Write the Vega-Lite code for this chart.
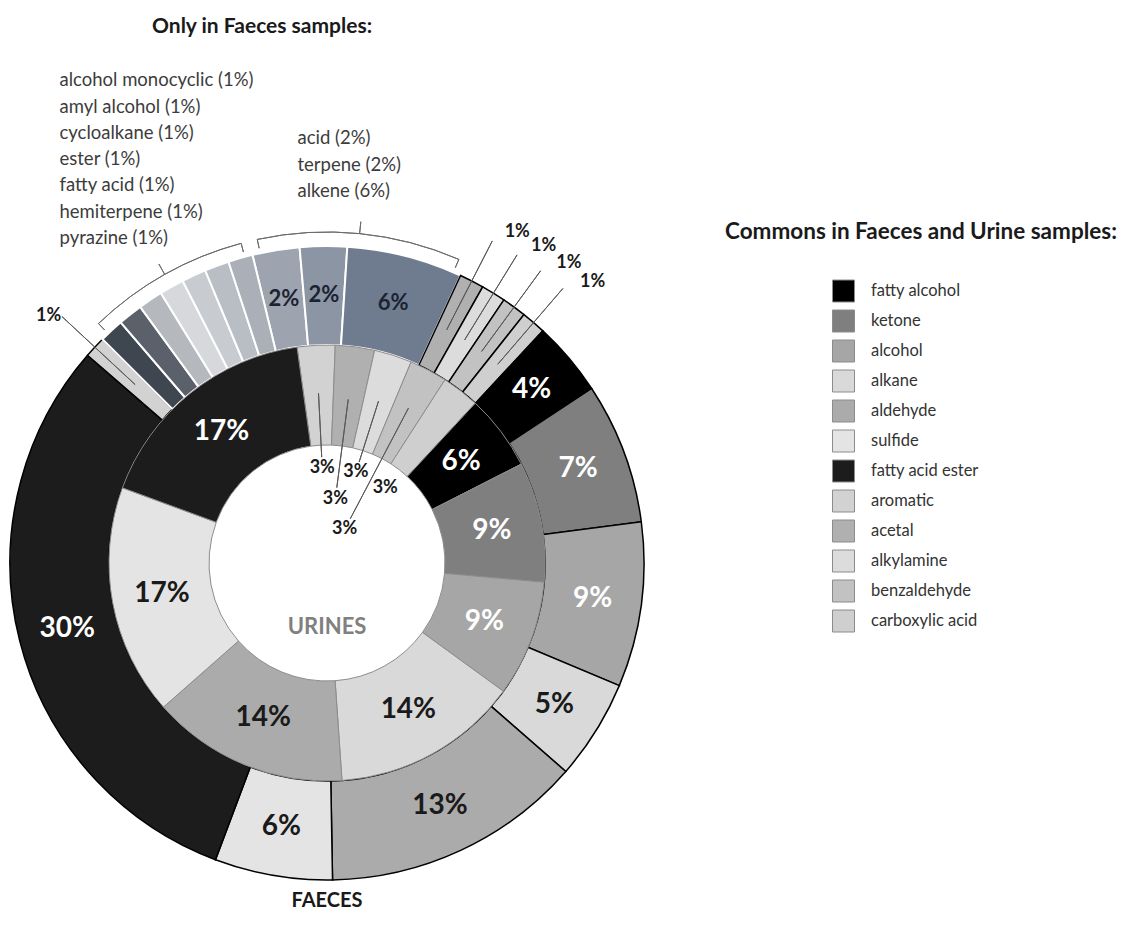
{
  "$schema": "https://vega.github.io/schema/vega-lite/v6.json",
  "width": 654,
  "height": 746,
  "autosize": {"type": "none"},
  "padding": {"left": 0, "top": 190, "right": 472, "bottom": 0},
  "background": "white",
  "title": {"text": "Only in Faeces samples:", "anchor": "start", "frame": "group", "dx": 152, "offset": 34, "font": "Lato", "fontSize": 21, "fontWeight": "bold", "color": "#1a1a1a"},
  "config": {"view": {"stroke": null}, "font": "Lato"},
  "datasets": {
    "rows": [
      {"ring": "faeces", "i": 1, "category": "acid", "group": "only", "value": 2.4, "label": "2%"},
      {"ring": "faeces", "i": 2, "category": "terpene", "group": "only", "value": 2.4, "label": "2%"},
      {"ring": "faeces", "i": 3, "category": "alkene", "group": "only", "value": 5.9, "label": "6%"},
      {"ring": "faeces", "i": 4, "category": "acetal", "group": "common", "value": 1.25, "label": "1%"},
      {"ring": "faeces", "i": 5, "category": "alkylamine", "group": "common", "value": 1.25, "label": "1%"},
      {"ring": "faeces", "i": 6, "category": "benzaldehyde", "group": "common", "value": 1.25, "label": "1%"},
      {"ring": "faeces", "i": 7, "category": "carboxylic acid", "group": "common", "value": 1.25, "label": "1%"},
      {"ring": "faeces", "i": 8, "category": "fatty alcohol", "group": "common", "value": 3.8, "label": "4%"},
      {"ring": "faeces", "i": 9, "category": "ketone", "group": "common", "value": 7.2, "label": "7%"},
      {"ring": "faeces", "i": 10, "category": "alcohol", "group": "common", "value": 8.4, "label": "9%"},
      {"ring": "faeces", "i": 11, "category": "alkane", "group": "common", "value": 5.1, "label": "5%"},
      {"ring": "faeces", "i": 12, "category": "aldehyde", "group": "common", "value": 13.3, "label": "13%"},
      {"ring": "faeces", "i": 13, "category": "sulfide", "group": "common", "value": 6.0, "label": "6%"},
      {"ring": "faeces", "i": 14, "category": "fatty acid ester", "group": "common", "value": 30.65, "label": "30%"},
      {"ring": "faeces", "i": 15, "category": "aromatic", "group": "common", "value": 1.1, "label": "1%"},
      {"ring": "faeces", "i": 16, "category": "alcohol monocyclic", "group": "only", "value": 1.25, "label": "1%"},
      {"ring": "faeces", "i": 17, "category": "amyl alcohol", "group": "only", "value": 1.25, "label": "1%"},
      {"ring": "faeces", "i": 18, "category": "cycloalkane", "group": "only", "value": 1.25, "label": "1%"},
      {"ring": "faeces", "i": 19, "category": "ester", "group": "only", "value": 1.25, "label": "1%"},
      {"ring": "faeces", "i": 20, "category": "fatty acid", "group": "only", "value": 1.25, "label": "1%"},
      {"ring": "faeces", "i": 21, "category": "hemiterpene", "group": "only", "value": 1.25, "label": "1%"},
      {"ring": "faeces", "i": 22, "category": "pyrazine", "group": "only", "value": 1.25, "label": "1%"},
      {"ring": "urines", "i": 1, "category": "aromatic", "group": "common", "value": 2.8, "label": "3%"},
      {"ring": "urines", "i": 2, "category": "acetal", "group": "common", "value": 2.9, "label": "3%"},
      {"ring": "urines", "i": 3, "category": "alkylamine", "group": "common", "value": 2.8, "label": "3%"},
      {"ring": "urines", "i": 4, "category": "benzaldehyde", "group": "common", "value": 2.8, "label": "3%"},
      {"ring": "urines", "i": 5, "category": "carboxylic acid", "group": "common", "value": 2.8, "label": "3%"},
      {"ring": "urines", "i": 6, "category": "fatty alcohol", "group": "common", "value": 5.6, "label": "6%"},
      {"ring": "urines", "i": 7, "category": "ketone", "group": "common", "value": 8.9, "label": "9%"},
      {"ring": "urines", "i": 8, "category": "alcohol", "group": "common", "value": 8.6, "label": "9%"},
      {"ring": "urines", "i": 9, "category": "alkane", "group": "common", "value": 13.9, "label": "14%"},
      {"ring": "urines", "i": 10, "category": "aldehyde", "group": "common", "value": 14.6, "label": "14%"},
      {"ring": "urines", "i": 11, "category": "sulfide", "group": "common", "value": 17.1, "label": "17%"},
      {"ring": "urines", "i": 12, "category": "fatty acid ester", "group": "common", "value": 17.2, "label": "17%"}
    ]
  },
  "data": {"name": "rows"},
  "resolve": {"scale": {"theta": "independent", "shape": "independent"}, "legend": {"shape": "independent"}},
  "layer": [
    {
      "transform": [
        {"filter": "datum.ring === 'faeces'"},
        {"window": [{"op": "sum", "field": "value", "as": "end"}], "sort": [{"field": "i"}], "frame": [null, 0]},
        {"calculate": "datum.end - datum.value", "as": "start"}
      ],
      "mark": {"type": "arc", "innerRadius": 218, "outerRadius": 317},
      "encoding": {
        "theta": {"field": "start", "type": "quantitative", "stack": false, "scale": {"domain": [0, 100], "range": [-0.2374, 6.0458]}},
        "theta2": {"field": "end"},
        "fill": {
          "field": "category", "type": "nominal",
          "scale": {
            "domain": ["fatty alcohol", "ketone", "alcohol", "alkane", "aldehyde", "sulfide", "fatty acid ester", "aromatic", "acetal", "alkylamine", "benzaldehyde", "carboxylic acid", "alcohol monocyclic", "amyl alcohol", "cycloalkane", "ester", "fatty acid", "hemiterpene", "pyrazine", "acid", "terpene", "alkene"],
            "range": ["#000000", "#7f7f7f", "#a6a6a6", "#d9d9d9", "#ababab", "#e4e4e4", "#1c1c1c", "#d2d2d2", "#b0b0b0", "#dcdcdc", "#c2c2c2", "#cfcfcf", "#3e4650", "#5a616b", "#b5b8bd", "#d6d8db", "#c8cbd0", "#b9bdc4", "#aaafb8", "#9da3af", "#8c95a3", "#6f7c8f"]
          },
          "legend": {
            "orient": "none", "legendX": 725, "legendY": 31,
            "title": "Commons in Faeces and Urine samples:", "titleFont": "Lato", "titleFontSize": 22.5, "titleFontWeight": "bold", "titleColor": "#1a1a1a", "titlePadding": 36, "titleLimit": 600,
            "values": ["fatty alcohol", "ketone", "alcohol", "alkane", "aldehyde", "sulfide", "fatty acid ester", "aromatic", "acetal", "alkylamine", "benzaldehyde", "carboxylic acid"],
            "symbolType": "square", "symbolSize": 484, "symbolStrokeColor": "#7f7f7f", "symbolStrokeWidth": 1, "symbolOffset": 107,
            "labelOffset": 16, "labelFont": "Lato", "labelFontSize": 16.5, "labelColor": "#333333", "rowPadding": 3
          }
        },
        "stroke": {"condition": {"test": "datum.group === 'only'", "value": "#ffffff"}, "value": "#000000"},
        "strokeWidth": {"condition": {"test": "datum.group === 'only'", "value": 2}, "value": 1.5}
      }
    },
    {
      "transform": [
        {"filter": "datum.ring === 'urines'"},
        {"window": [{"op": "sum", "field": "value", "as": "end"}], "sort": [{"field": "i"}], "frame": [null, 0]},
        {"calculate": "datum.end - datum.value", "as": "start"}
      ],
      "mark": {"type": "arc", "innerRadius": 118, "outerRadius": 218, "stroke": "#8c8c8c", "strokeWidth": 1},
      "encoding": {
        "theta": {"field": "start", "type": "quantitative", "stack": false, "scale": {"domain": [0, 100], "range": [-0.1379, 6.1453]}},
        "theta2": {"field": "end"},
        "fill": {"field": "category", "type": "nominal"}
      }
    },
    {
      "transform": [
        {"filter": "datum.ring === 'faeces'"},
        {"window": [{"op": "sum", "field": "value", "as": "end"}], "sort": [{"field": "i"}], "frame": [null, 0]},
        {"calculate": "datum.end - datum.value / 2", "as": "mid"},
        {"filter": "datum.value >= 2"}
      ],
      "mark": {"type": "text", "radius": 268, "fontWeight": "bold", "font": "Lato", "baseline": "middle", "align": "center"},
      "encoding": {
        "theta": {"field": "mid", "type": "quantitative", "stack": false, "scale": {"domain": [0, 100], "range": [-0.2374, 6.0458]}},
        "text": {"field": "label"},
        "color": {"condition": [
          {"test": "indexof(['fatty alcohol','ketone','alcohol','fatty acid ester'], datum.category) >= 0", "value": "#ffffff"},
          {"test": "datum.group === 'only'", "value": "#1b2332"}
        ], "value": "#1a1a1a"},
        "size": {"condition": {"test": "datum.group === 'only'", "value": 22}, "value": 28}
      }
    },
    {
      "transform": [
        {"filter": "datum.ring === 'faeces'"},
        {"window": [{"op": "sum", "field": "value", "as": "end"}], "sort": [{"field": "i"}], "frame": [null, 0]},
        {"calculate": "datum.end - datum.value / 2", "as": "mid"},
        {"filter": "datum.value < 2 && datum.group === 'common' && datum.category !== 'aromatic'"}
      ],
      "mark": {"type": "text", "radius": 386, "dx": 14, "dy": 12, "fontWeight": "bold", "font": "Lato", "fontSize": 18, "color": "#1a1a1a", "baseline": "middle", "align": "center"},
      "encoding": {
        "theta": {"field": "mid", "type": "quantitative", "stack": false, "scale": {"domain": [0, 100], "range": [-0.2374, 6.0458]}},
        "text": {"field": "label"}
      }
    },
    {
      "transform": [
        {"filter": "datum.ring === 'faeces'"},
        {"window": [{"op": "sum", "field": "value", "as": "end"}], "sort": [{"field": "i"}], "frame": [null, 0]},
        {"calculate": "datum.end - datum.value / 2", "as": "mid"},
        {"filter": "datum.category === 'aromatic'"}
      ],
      "mark": {"type": "text", "radius": 380, "dy": 12, "fontWeight": "bold", "font": "Lato", "fontSize": 18, "color": "#1a1a1a", "baseline": "middle", "align": "center"},
      "encoding": {
        "theta": {"field": "mid", "type": "quantitative", "stack": false, "scale": {"domain": [0, 100], "range": [-0.2374, 6.0458]}},
        "text": {"field": "label"}
      }
    },
    {
      "transform": [
        {"filter": "datum.ring === 'faeces'"},
        {"window": [{"op": "sum", "field": "value", "as": "end"}], "sort": [{"field": "i"}], "frame": [null, 0]},
        {"calculate": "datum.end - datum.value / 2", "as": "mid"},
        {"filter": "datum.value < 2 && datum.group === 'common'"}
      ],
      "mark": {"type": "arc", "innerRadius": 262, "outerRadius": 362, "filled": false, "color": "#595959", "strokeWidth": 1},
      "encoding": {
        "theta": {"field": "mid", "type": "quantitative", "stack": false, "scale": {"domain": [0, 100], "range": [-0.2374, 6.0458]}},
        "theta2": {"field": "mid"}
      }
    },
    {
      "transform": [
        {"filter": "datum.ring === 'urines'"},
        {"window": [{"op": "sum", "field": "value", "as": "end"}], "sort": [{"field": "i"}], "frame": [null, 0]},
        {"calculate": "datum.end - datum.value / 2", "as": "mid"},
        {"filter": "datum.value >= 5"}
      ],
      "mark": {"type": "text", "radius": 168, "fontWeight": "bold", "font": "Lato", "fontSize": 28, "baseline": "middle", "align": "center"},
      "encoding": {
        "theta": {"field": "mid", "type": "quantitative", "stack": false, "scale": {"domain": [0, 100], "range": [-0.1379, 6.1453]}},
        "text": {"field": "label"},
        "color": {"condition": {"test": "indexof(['fatty alcohol','ketone','alcohol','fatty acid ester'], datum.category) >= 0", "value": "#ffffff"}, "value": "#1a1a1a"}
      }
    },
    {
      "transform": [
        {"filter": "datum.ring === 'urines'"},
        {"window": [{"op": "sum", "field": "value", "as": "end"}], "sort": [{"field": "i"}], "frame": [null, 0]},
        {"calculate": "datum.end - datum.value / 2", "as": "mid"},
        {"filter": "indexof(['aromatic','alkylamine','carboxylic acid'], datum.category) >= 0"}
      ],
      "mark": {"type": "text", "radius": 95, "fontWeight": "bold", "font": "Lato", "fontSize": 18, "color": "#1a1a1a", "baseline": "middle", "align": "center"},
      "encoding": {
        "theta": {"field": "mid", "type": "quantitative", "stack": false, "scale": {"domain": [0, 100], "range": [-0.1379, 6.1453]}},
        "text": {"field": "label"}
      }
    },
    {
      "transform": [
        {"filter": "datum.ring === 'urines'"},
        {"window": [{"op": "sum", "field": "value", "as": "end"}], "sort": [{"field": "i"}], "frame": [null, 0]},
        {"calculate": "datum.end - datum.value / 2", "as": "mid"},
        {"filter": "datum.category === 'acetal'"}
      ],
      "mark": {"type": "text", "radius": 65, "fontWeight": "bold", "font": "Lato", "fontSize": 18, "color": "#1a1a1a", "baseline": "middle", "align": "center"},
      "encoding": {
        "theta": {"field": "mid", "type": "quantitative", "stack": false, "scale": {"domain": [0, 100], "range": [-0.1379, 6.1453]}},
        "text": {"field": "label"}
      }
    },
    {
      "transform": [
        {"filter": "datum.ring === 'urines'"},
        {"window": [{"op": "sum", "field": "value", "as": "end"}], "sort": [{"field": "i"}], "frame": [null, 0]},
        {"calculate": "datum.end - datum.value / 2", "as": "mid"},
        {"filter": "datum.category === 'benzaldehyde'"}
      ],
      "mark": {"type": "text", "radius": 38, "fontWeight": "bold", "font": "Lato", "fontSize": 18, "color": "#1a1a1a", "baseline": "middle", "align": "center"},
      "encoding": {
        "theta": {"field": "mid", "type": "quantitative", "stack": false, "scale": {"domain": [0, 100], "range": [-0.1379, 6.1453]}},
        "text": {"field": "label"}
      }
    },
    {
      "transform": [
        {"filter": "datum.ring === 'urines'"},
        {"window": [{"op": "sum", "field": "value", "as": "end"}], "sort": [{"field": "i"}], "frame": [null, 0]},
        {"calculate": "datum.end - datum.value / 2", "as": "mid"},
        {"filter": "indexof(['aromatic','alkylamine'], datum.category) >= 0"}
      ],
      "mark": {"type": "arc", "innerRadius": 106, "outerRadius": 170, "filled": false, "color": "#595959", "strokeWidth": 1},
      "encoding": {
        "theta": {"field": "mid", "type": "quantitative", "stack": false, "scale": {"domain": [0, 100], "range": [-0.1379, 6.1453]}},
        "theta2": {"field": "mid"}
      }
    },
    {
      "transform": [
        {"filter": "datum.ring === 'urines'"},
        {"window": [{"op": "sum", "field": "value", "as": "end"}], "sort": [{"field": "i"}], "frame": [null, 0]},
        {"calculate": "datum.end - datum.value / 2", "as": "mid"},
        {"filter": "datum.category === 'acetal'"}
      ],
      "mark": {"type": "arc", "innerRadius": 76, "outerRadius": 165, "filled": false, "color": "#595959", "strokeWidth": 1},
      "encoding": {
        "theta": {"field": "mid", "type": "quantitative", "stack": false, "scale": {"domain": [0, 100], "range": [-0.1379, 6.1453]}},
        "theta2": {"field": "mid"}
      }
    },
    {
      "transform": [
        {"filter": "datum.ring === 'urines'"},
        {"window": [{"op": "sum", "field": "value", "as": "end"}], "sort": [{"field": "i"}], "frame": [null, 0]},
        {"calculate": "datum.end - datum.value / 2", "as": "mid"},
        {"filter": "datum.category === 'benzaldehyde'"}
      ],
      "mark": {"type": "arc", "innerRadius": 50, "outerRadius": 175, "filled": false, "color": "#595959", "strokeWidth": 1},
      "encoding": {
        "theta": {"field": "mid", "type": "quantitative", "stack": false, "scale": {"domain": [0, 100], "range": [-0.1379, 6.1453]}},
        "theta2": {"field": "mid"}
      }
    },
    {
      "transform": [
        {"filter": "datum.ring === 'faeces'"},
        {"window": [{"op": "sum", "field": "value", "as": "end"}], "sort": [{"field": "i"}], "frame": [null, 0]},
        {"calculate": "datum.end - datum.value", "as": "start"},
        {"filter": "datum.group === 'only'"},
        {"calculate": "datum.value < 2 ? 'A' : 'B'", "as": "bracket"},
        {"aggregate": [{"op": "min", "field": "start", "as": "bstart"}, {"op": "max", "field": "end", "as": "bend"}], "groupby": ["bracket"]},
        {"calculate": "datum.bstart + 0.4", "as": "bs"},
        {"calculate": "datum.bend - 0.4", "as": "be"}
      ],
      "mark": {"type": "arc", "innerRadius": 331, "outerRadius": 331, "filled": false, "color": "#6b6b6b", "strokeWidth": 1},
      "encoding": {
        "theta": {"field": "bs", "type": "quantitative", "stack": false, "scale": {"domain": [0, 100], "range": [-0.2374, 6.0458]}},
        "theta2": {"field": "be"}
      }
    },
    {
      "transform": [
        {"filter": "datum.ring === 'faeces'"},
        {"window": [{"op": "sum", "field": "value", "as": "end"}], "sort": [{"field": "i"}], "frame": [null, 0]},
        {"calculate": "datum.end - datum.value", "as": "start"},
        {"filter": "datum.group === 'only'"},
        {"calculate": "datum.value < 2 ? 'A' : 'B'", "as": "bracket"},
        {"aggregate": [{"op": "min", "field": "start", "as": "bstart"}, {"op": "max", "field": "end", "as": "bend"}], "groupby": ["bracket"]},
        {"calculate": "(datum.bstart + datum.bend) / 2", "as": "bm"}
      ],
      "mark": {"type": "arc", "innerRadius": 331, "outerRadius": 343, "filled": false, "color": "#6b6b6b", "strokeWidth": 1},
      "encoding": {
        "theta": {"field": "bm", "type": "quantitative", "stack": false, "scale": {"domain": [0, 100], "range": [-0.2374, 6.0458]}},
        "theta2": {"field": "bm"}
      }
    },
    {
      "transform": [
        {"filter": "datum.ring === 'faeces'"},
        {"window": [{"op": "sum", "field": "value", "as": "end"}], "sort": [{"field": "i"}], "frame": [null, 0]},
        {"calculate": "datum.end - datum.value", "as": "start"},
        {"filter": "datum.group === 'only'"},
        {"calculate": "datum.value < 2 ? 'A' : 'B'", "as": "bracket"},
        {"aggregate": [{"op": "min", "field": "start", "as": "bstart"}, {"op": "max", "field": "end", "as": "bend"}], "groupby": ["bracket"]},
        {"calculate": "datum.bstart + 0.4", "as": "bs"},
        {"calculate": "datum.bend - 0.4", "as": "be"},
        {"fold": ["bs", "be"], "as": ["which", "pos"]}
      ],
      "mark": {"type": "arc", "innerRadius": 322, "outerRadius": 331, "filled": false, "color": "#6b6b6b", "strokeWidth": 1},
      "encoding": {
        "theta": {"field": "pos", "type": "quantitative", "stack": false, "scale": {"domain": [0, 100], "range": [-0.2374, 6.0458]}},
        "theta2": {"field": "pos"}
      }
    },
    {
      "transform": [
        {"aggregate": [{"op": "count", "as": "n"}], "groupby": ["ring"]},
        {"filter": "datum.ring === 'urines'"},
        {"calculate": "upper(datum.ring)", "as": "name"}
      ],
      "mark": {"type": "text", "theta": 3.14159, "radius": 64, "font": "Lato", "fontWeight": "bold", "fontSize": 22, "color": "#808080", "baseline": "middle", "align": "center"},
      "encoding": {"text": {"field": "name"}}
    },
    {
      "transform": [
        {"aggregate": [{"op": "count", "as": "n"}], "groupby": ["ring"]},
        {"filter": "datum.ring === 'faeces'"},
        {"calculate": "upper(datum.ring)", "as": "name"}
      ],
      "mark": {"type": "text", "theta": 3.14159, "radius": 338, "font": "Lato", "fontWeight": "bold", "fontSize": 20, "color": "#1a1a1a", "baseline": "middle", "align": "center"},
      "encoding": {"text": {"field": "name"}}
    },
    {
      "transform": [
        {"filter": "datum.ring === 'faeces' && datum.group === 'only' && datum.value < 2"},
        {"calculate": "datum.category + ' (' + datum.label + ')'", "as": "item"}
      ],
      "mark": {"type": "point", "opacity": 0},
      "encoding": {
        "shape": {"field": "item", "type": "nominal", "legend": {
          "orient": "none", "legendX": 41, "legendY": -119, "title": null,
          "symbolOpacity": 0, "symbolStrokeWidth": 0, "symbolSize": 1, "labelOffset": 0,
          "labelFont": "Lato", "labelFontSize": 18.5, "labelColor": "#3c3c3c", "rowPadding": 7.3, "labelLimit": 400
        }}
      }
    },
    {
      "transform": [
        {"filter": "datum.ring === 'faeces' && datum.group === 'only' && datum.value >= 2"},
        {"calculate": "datum.category + ' (' + datum.label + ')'", "as": "item"}
      ],
      "mark": {"type": "point", "opacity": 0},
      "encoding": {
        "shape": {"field": "item", "type": "nominal", "sort": ["acid (2%)", "terpene (2%)", "alkene (6%)"], "legend": {
          "orient": "none", "legendX": 279, "legendY": -61, "title": null,
          "symbolOpacity": 0, "symbolStrokeWidth": 0, "symbolSize": 1, "labelOffset": 0,
          "labelFont": "Lato", "labelFontSize": 18.5, "labelColor": "#3c3c3c", "rowPadding": 7.3, "labelLimit": 400
        }}
      }
    }
  ]
}
